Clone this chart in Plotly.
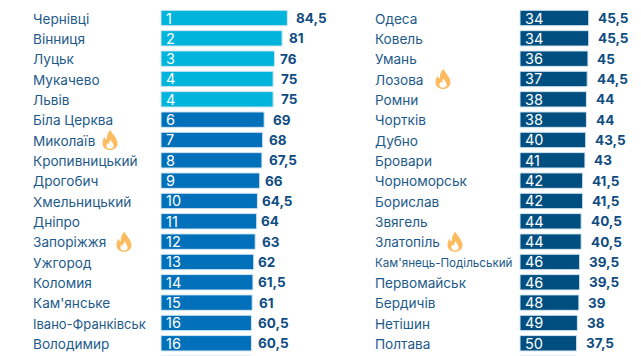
import plotly.graph_objects as go

left_city = ["Чернівці","Вінниця","Луцьк","Мукачево","Львів","Біла Церква","Миколаїв","Кропивницький","Дрогобич","Хмельницький","Дніпро","Запоріжжя","Ужгород","Коломия","Кам'янське","Івано-Франківськ","Володимир"]
left_rank = [1,2,3,4,4,6,7,8,9,10,11,12,13,14,15,16,16]
left_val = [84.5,81,76,75,75,69,68,67.5,66,64.5,64,63,62,61.5,61,60.5,60.5]
left_next_val = [60]   # next row, cut off by the bottom edge
right_city = ["Одеса","Ковель","Умань","Лозова","Ромни","Чортків","Дубно","Бровари","Чорноморськ","Борислав","Звягель","Златопіль","Кам'янець-Подільський","Первомайськ","Бердичів","Нетішин","Полтава"]
right_rank = [34,34,36,37,38,38,40,41,42,42,44,44,46,46,48,49,50]
right_val = [45.5,45.5,45,44.5,44,44,43.5,43,41.5,41.5,40.5,40.5,39.5,39.5,39,38,37.5]
right_next_val = [37]
left_flames = ["Миколаїв","Запоріжжя"]
right_flames = ["Лозова","Златопіль"]

W, H = 641, 356
FONT = "Inter"
NAME_C = "#1d5a8a"; VAL_C = "#0f4c81"
CYAN = "#00b4dc"; BLUE = "#0070ba"; NAVY = "#004f80"
PITCH = 20.33; Y0 = 18.0
left_nudge = [3.5,1.5,0.5,2.5,2.5,4,1.5,2.5,0.5,-0.5,-0.5,1.5,-0.5,0.5,1.5,2,2]

def xrange_for(x0, scale):
    return [-x0/scale, (W-x0)/scale]
yrange = [(H-Y0)/PITCH, -Y0/PITCH]

def name_size(c):
    if len(c) >= 18:
        return 11.6
    if len(c) >= 15:
        return 13
    return 13.6

fig = go.Figure()
def panel(cities, ranks, vals, next_vals, colors, xaxis, name_x, shifts):
    all_vals = vals + next_vals
    rows = list(range(len(all_vals)))
    fig.add_trace(go.Bar(x=all_vals, y=rows, orientation="h", width=15.4/PITCH, xaxis=xaxis, yaxis="y",
        marker=dict(color=colors + colors[-1:], line=dict(color="#d3e6f1", width=1)), hoverinfo="skip"))
    for c, rk, r, v, s in zip(cities, ranks, rows, vals, shifts):
        fig.add_annotation(xref="paper", x=name_x/W, yref="y", y=r, yshift=-0.6, text=c, showarrow=False, xanchor="left",
            font=dict(family=FONT, size=name_size(c), color=NAME_C))
        fig.add_annotation(xref=xaxis, x=0, yref="y", y=r, text=str(rk), showarrow=False, xanchor="left", xshift=3,
            font=dict(family=FONT, size=14.5, color="#ffffff"))
        fig.add_annotation(xref=xaxis, x=v, yref="y", y=r, text=f"<b>{str(v).replace('.', ',')}</b>", showarrow=False,
            xanchor="left", xshift=s, font=dict(family=FONT, size=13.5, color=VAL_C))

lc = [CYAN if r < 5 else BLUE for r in left_rank]
panel(left_city, left_rank, left_val, left_next_val, lc, "x", 31, [3 + n for n in left_nudge])
panel(right_city, right_rank, right_val, right_next_val, [NAVY]*17, "x2", 373, [7.5]*17)

FLAME = "M 0.5,-10 C 2,-6 7.5,-2 7.5,3.5 C 7.5,7.5 4,10 0,10 C -4,10 -7.5,7.5 -7.5,3.5 C -7.5,0.5 -6.5,-1.5 -5.5,-3 C -5,-1.5 -4.3,-0.7 -3.2,-0.2 C -3.5,-4 -2,-8 0.5,-10 Z"
INNER = "M 0.6,-0.5 C 1.5,2 3.6,3.5 3.6,6 C 3.6,7.8 2,8.8 0,8.8 C -2,8.8 -3.6,7.8 -3.6,6 C -3.6,4.5 -2.8,3.5 -2,2.8 C -1.7,3.4 -1.2,3.8 -0.7,4 C -0.9,2.5 -0.4,0.8 0.6,-0.5 Z"
def path(p, cx, cy):
    out = []
    for tok in p.split():
        if "," in tok:
            a, b = tok.split(",")
            out.append(f"{(cx+float(a))/W:.5f},{1-(cy+float(b))/H:.5f}")
        else:
            out.append(tok)
    return " ".join(out)
flame_pos = {"Миколаїв":110,"Запоріжжя":124,"Лозова":443,"Златопіль":455}
for names, cities in ((left_flames,left_city),(right_flames,right_city)):
    for n in names:
        cy = Y0 + cities.index(n)*PITCH
        cx = flame_pos[n]
        fig.add_shape(type="path", xref="paper", yref="paper", path=path(FLAME,cx,cy), fillcolor="#fbbb5e", line=dict(width=0))
        fig.add_shape(type="path", xref="paper", yref="paper", path=path(INNER,cx,cy), fillcolor="#ffffff", line=dict(width=0))

fig.update_layout(width=W, height=H, margin=dict(l=0,r=0,t=0,b=0), paper_bgcolor="white", plot_bgcolor="white",
    showlegend=False, barmode="overlay",
    xaxis=dict(range=xrange_for(161,1.495), visible=False, domain=[0,1]),
    xaxis2=dict(range=xrange_for(520,1.51), visible=False, domain=[0,1], overlaying="x", anchor="y"),
    yaxis=dict(range=yrange, visible=False, domain=[0,1]))
fig.write_html("out.html", config={"displayModeBar": False},
    post_script="document.body.style.margin='0';document.documentElement.style.overflow='hidden';")
